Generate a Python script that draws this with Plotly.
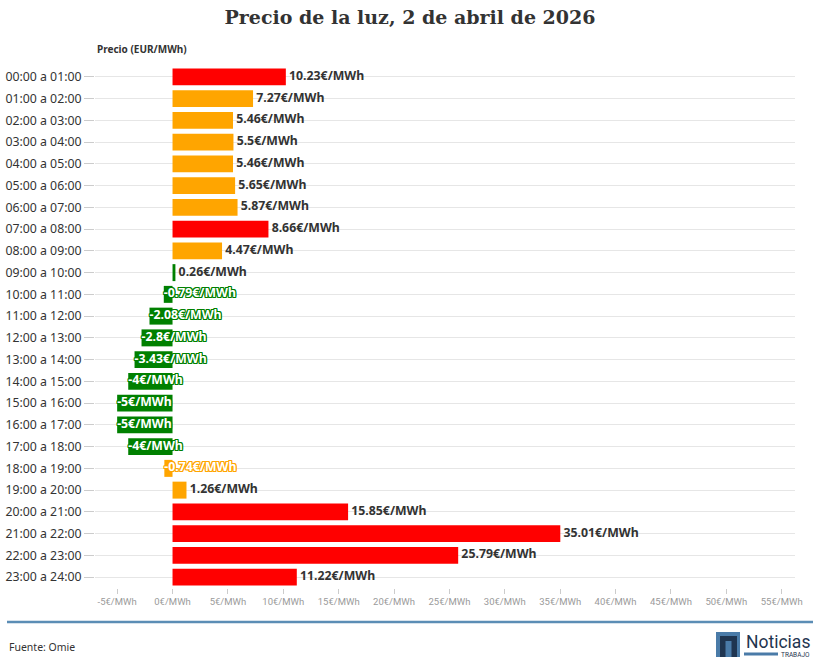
import plotly.graph_objects as go

horas = ["00:00 a 01:00", "01:00 a 02:00", "02:00 a 03:00", "03:00 a 04:00",
         "04:00 a 05:00", "05:00 a 06:00", "06:00 a 07:00", "07:00 a 08:00",
         "08:00 a 09:00", "09:00 a 10:00", "10:00 a 11:00", "11:00 a 12:00",
         "12:00 a 13:00", "13:00 a 14:00", "14:00 a 15:00", "15:00 a 16:00",
         "16:00 a 17:00", "17:00 a 18:00", "18:00 a 19:00", "19:00 a 20:00",
         "20:00 a 21:00", "21:00 a 22:00", "22:00 a 23:00", "23:00 a 24:00"]
precios = [10.23, 7.27, 5.46, 5.5, 5.46, 5.65, 5.87, 8.66, 4.47, 0.26,
           -0.79, -2.08, -2.8, -3.43, -4, -5, -5, -4, -0.74, 1.26,
           15.85, 35.01, 25.79, 11.22]
niveles = ["alto", "medio", "medio", "medio", "medio", "medio", "medio", "alto",
           "medio", "bajo", "bajo", "bajo", "bajo", "bajo", "bajo", "bajo",
           "bajo", "bajo", "medio", "medio", "alto", "alto", "alto", "alto"]
ticks_x = [-5, 0, 5, 10, 15, 20, 25, 30, 35, 40, 45, 50, 55]

COLORES = {"alto": "#ff0000", "medio": "#ffa500", "bajo": "#008000"}

# plot area in pixels
L, R, T, B = 95, 795, 66, 588
W, H = 820, 668
def px(x):
    return (x - L) / (R - L)
def py(y):
    return (B - y) / (B - T)

def fmt(v):
    return f"{v:g}€/MWh"

fig = go.Figure()
fig.add_trace(go.Bar(
    y=horas, x=precios, orientation="h",
    marker=dict(color=[COLORES[n] for n in niveles], line=dict(width=0)),
    width=0.78, hoverinfo="skip",
))

LABEL_FONT = dict(family="Noto Sans", size=12.3, weight="bold")

# positive labels
pos_idx = [i for i, v in enumerate(precios) if v >= 0]
fig.add_trace(go.Scatter(
    y=[horas[i] for i in pos_idx], x=[precios[i] for i in pos_idx],
    mode="text", text=["\u00a0" + fmt(precios[i]) for i in pos_idx],
    textposition="middle right",
    textfont=dict(**LABEL_FONT, color="#333333"),
    hoverinfo="skip", cliponaxis=False,
))
# negative labels (white with outline in bar colour)
for nivel in ["bajo", "medio", "alto"]:
    idx = [i for i, v in enumerate(precios) if v < 0 and niveles[i] == nivel]
    if not idx:
        continue
    c = COLORES[nivel]
    shadow = ", ".join(f"{dx}px {dy}px 0 {c}" for dx in (-1, 0, 1) for dy in (-1, 0, 1) if dx or dy)
    fig.add_trace(go.Scatter(
        y=[horas[i] for i in idx], x=[precios[i] for i in idx],
        mode="text", text=[fmt(precios[i]) for i in idx],
        textposition="middle right",
        textfont=dict(**LABEL_FONT, color="#ffffff", shadow=shadow),
        hoverinfo="skip", cliponaxis=False,
    ))

fig.update_layout(
    width=W, height=H,
    margin=dict(l=L, r=W - R, t=T, b=H - B, pad=0, autoexpand=False),
    paper_bgcolor="white", plot_bgcolor="white",
    showlegend=False, bargap=0.2,
    title=dict(text="Precio de la luz, 2 de abril de 2026", x=0.5, xanchor="center",
               y=1 - 17 / H, yanchor="middle",
               font=dict(family="DejaVu Serif", size=19, color="#333333", weight="bold")),
    font=dict(family="Noto Sans", color="#333333"),
)
fig.update_yaxes(
    categoryorder="array", categoryarray=horas, range=[len(horas) - 0.5, -0.5],
    ticks="outside", ticklen=10, tickcolor="#cccccc", tickwidth=1,
    showgrid=True, gridcolor="#e6e6e6", gridwidth=1,
    tickfont=dict(family="Noto Sans", size=12.3, color="#333333"),
    showline=False, zeroline=False, automargin=False,
)
fig.update_xaxes(
    range=[-7, 56.2], tickvals=ticks_x, ticktext=[f"{v}€/MWh" for v in ticks_x],
    ticks="outside", ticklen=5, tickcolor="#cccccc",
    tickfont=dict(family="Roboto", size=9.5, color="#9a9a9a"),
    showgrid=False, zeroline=False, showline=False, automargin=False,
)

# axis title
fig.add_annotation(text="<b>Precio (EUR/MWh)</b>", xref="paper", yref="paper",
                   x=px(95), y=py(49), xanchor="left", yanchor="middle", showarrow=False,
                   font=dict(family="Noto Sans", size=10, color="#333333"))

# footer line
fig.add_shape(type="line", xref="paper", yref="paper", x0=px(7), x1=px(813),
              y0=py(622), y1=py(622), line=dict(color="#5b8db5", width=2.5))
fig.add_annotation(text="Fuente: Omie", xref="paper", yref="paper",
                   x=px(7), y=py(647), xanchor="left", yanchor="middle", showarrow=False,
                   font=dict(family="Noto Sans", size=10.5, color="#333333"))

# logo
fig.add_shape(type="rect", xref="paper", yref="paper", x0=px(716), x1=px(740),
              y0=py(657), y1=py(632), fillcolor="#4a7ba8", line=dict(width=0))
def P(x, y):
    return f"{px(x)},{py(y)}"
n_path = ("M " + P(720, 657) + " L " + P(720, 636) + " L " + P(737, 636) + " L " + P(737, 657)
          + " L " + P(731.5, 657) + " L " + P(731.5, 641) + " L " + P(725.5, 641)
          + " L " + P(725.5, 657) + " Z")
fig.add_shape(type="path", xref="paper", yref="paper", path=n_path,
              fillcolor="#1f3550", line=dict(width=0))
fig.add_annotation(text="Noticias", xref="paper", yref="paper",
                   x=px(812), y=py(641.5), xanchor="right", yanchor="middle", showarrow=False,
                   font=dict(family="Roboto", size=17.5, color="#1f3550"))
fig.add_shape(type="rect", xref="paper", yref="paper", x0=px(744), x1=px(778),
              y0=py(655.5), y1=py(652.5), fillcolor="#4a7ba8", line=dict(width=0))
fig.add_annotation(text="TRABAJO", xref="paper", yref="paper",
                   x=px(812), y=py(654.5), xanchor="right", yanchor="middle", showarrow=False,
                   font=dict(family="Roboto", size=6.5, color="#1f3550"))

fig.write_html("out.html", config={"displayModeBar": False},
               post_script="document.body.style.margin='0';document.body.style.padding='0';")
